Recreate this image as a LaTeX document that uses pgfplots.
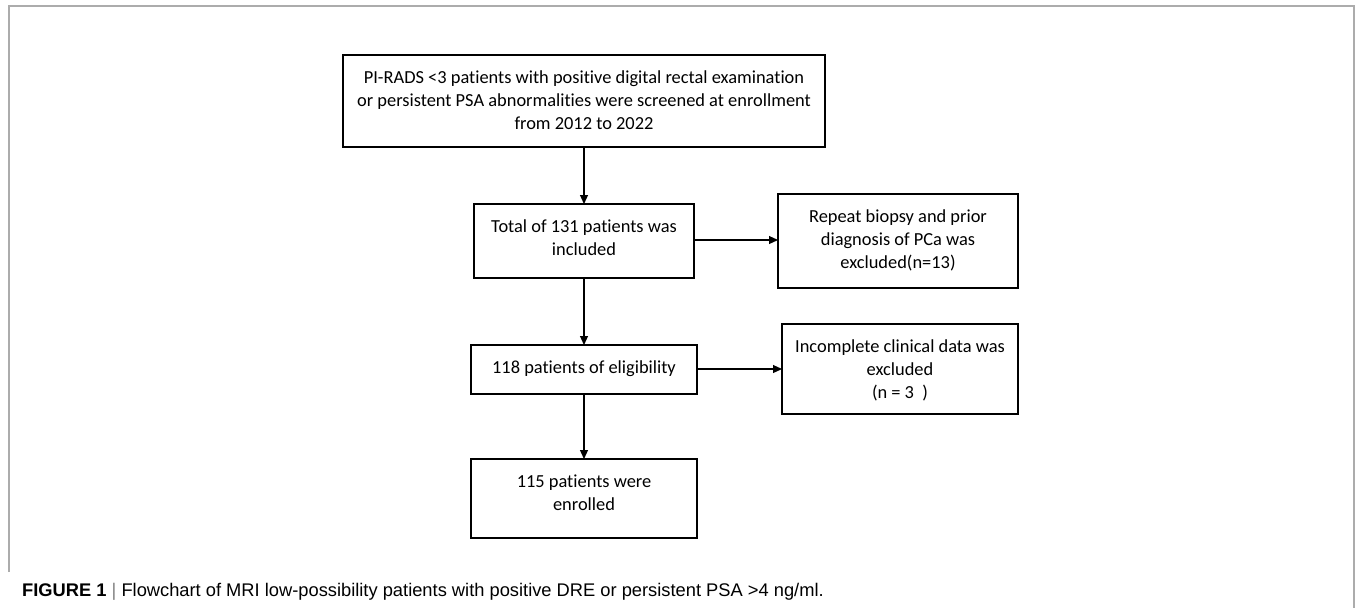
\documentclass[border=0pt]{standalone}
\usepackage{pgfplots}
\pgfplotsset{compat=1.18}
\usepackage{fontspec}
\setmainfont{Carlito}[RawFeature=-liga]
\newfontfamily\capfont{Liberation Sans}
\usetikzlibrary{arrows.meta}
\begin{document}
\begin{tikzpicture}
\begin{axis}[
  scale only axis, width=1355pt, height=608pt,
  xmin=0, xmax=1355, ymin=0, ymax=608, y dir=reverse,
  axis lines=none, clip=false,
]
% page area
\path (axis cs:0,0) rectangle (axis cs:1355,608);
% outer frame
\draw[gray!65, line width=1.3pt] (axis cs:9,572) -- (axis cs:9,6) -- (axis cs:1354,6) -- (axis cs:1354,608);
% boxes
\tikzset{box/.style={draw=black, line width=1.4pt}, arr/.style={line width=1.2pt, -{Triangle[length=9pt,width=8pt]}}}
\draw[box] (axis cs:343,55) rectangle (axis cs:825,147);
\draw[box] (axis cs:474,204) rectangle (axis cs:694,278);
\draw[box] (axis cs:778,194) rectangle (axis cs:1018,288);
\draw[box] (axis cs:471,345) rectangle (axis cs:697,394);
\draw[box] (axis cs:782,324) rectangle (axis cs:1018,414);
\draw[box] (axis cs:471,459) rectangle (axis cs:697,538);
% arrows
\draw[arr] (axis cs:584,147) -- (axis cs:584,204);
\draw[arr] (axis cs:584,278) -- (axis cs:584,345);
\draw[arr] (axis cs:584,394) -- (axis cs:584,459);
\draw[arr] (axis cs:694,240) -- (axis cs:778,240);
\draw[arr] (axis cs:697,369) -- (axis cs:782,369);
% texts
\tikzset{txt/.style={align=center, font=\fontsize{18.4}{23}\selectfont, inner sep=0pt}}
\node[txt] at (axis cs:584,100) {PI-RADS <3 patients with positive digital rectal examination\\or persistent PSA abnormalities were screened at enrollment\\from 2012 to 2022};
\node[txt] at (axis cs:584,238) {Total of 131 patients was\\included};
\node[txt] at (axis cs:898,240) {Repeat biopsy and prior\\diagnosis of PCa was\\excluded(n=13)};
\node[txt] at (axis cs:584,369) {118 patients of eligibility};
\node[txt] at (axis cs:900,370) {Incomplete clinical data was\\excluded\\(n = 3\ \ )};
\node[txt] at (axis cs:584,493) {115 patients were\\enrolled};
\node[anchor=west, inner sep=0pt, font=\capfont\fontsize{18.3}{21}\selectfont] at (axis cs:22,592) {\textbf{FIGURE 1} {\color{gray}|} Flowchart of MRI low-possibility patients with positive DRE or persistent PSA >4 ng/ml.};
\end{axis}
\end{tikzpicture}
\end{document}
